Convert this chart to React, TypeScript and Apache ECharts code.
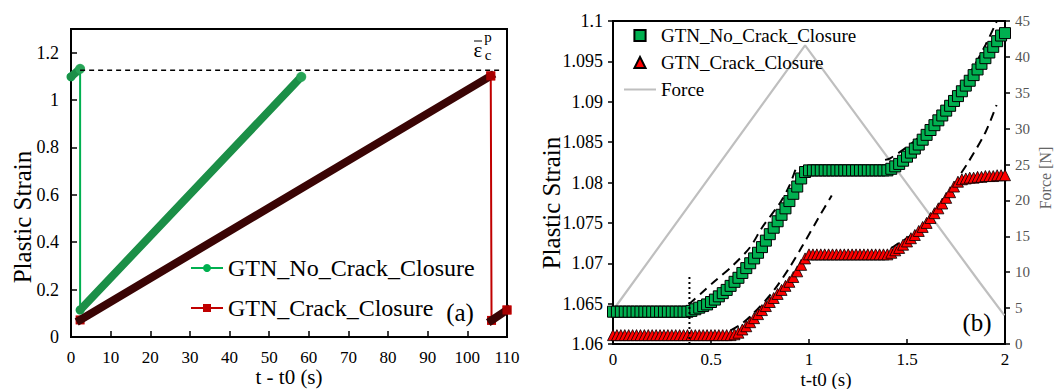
import React, { useEffect, useRef } from 'react';
import * as echarts from 'echarts';

// ---------- Panel (a) ----------
const tNoClosureA = [0, 2.3, 2.3, 58.1];
const strainNoClosureA = [1.098, 1.132, 0.114, 1.098];
const tClosureA = [2.3, 105.9, 106.1, 110];
const strainClosureA = [0.072, 1.102, 0.07, 0.114];
const criticalStrainA = 1.126;
const criticalSpanA = [2.3, 108.3];

// ---------- Panel (b) ----------
const timeB = [
  0, 0.02, 0.04, 0.06, 0.08, 0.1, 0.12, 0.14, 0.16, 0.18, 0.2, 0.22, 0.24, 0.26, 0.28, 0.3, 0.32, 0.34, 0.36, 0.38,
  0.4, 0.42, 0.44, 0.46, 0.48, 0.5, 0.52, 0.54, 0.56, 0.58, 0.6, 0.62, 0.64, 0.66, 0.68, 0.7, 0.72, 0.74, 0.76, 0.78,
  0.8, 0.82, 0.84, 0.86, 0.88, 0.9, 0.92, 0.94, 0.96, 0.98, 1, 1.02, 1.04, 1.06, 1.08, 1.1, 1.12, 1.14, 1.16, 1.18,
  1.2, 1.22, 1.24, 1.26, 1.28, 1.3, 1.32, 1.34, 1.36, 1.38, 1.4, 1.42, 1.44, 1.46, 1.48, 1.5, 1.52, 1.54, 1.56, 1.58,
  1.6, 1.62, 1.64, 1.66, 1.68, 1.7, 1.72, 1.74, 1.76, 1.78, 1.8, 1.82, 1.84, 1.86, 1.88, 1.9, 1.92, 1.94, 1.96, 1.98, 2,
];
const strainNoClosureB = [
  1.064, 1.064, 1.064, 1.064, 1.064, 1.064, 1.064, 1.064, 1.064, 1.064, 1.064, 1.064, 1.064, 1.064, 1.064, 1.064, 1.064, 1.064, 1.064, 1.064,
  1.0641, 1.0643, 1.0645, 1.0647, 1.0649, 1.0652, 1.0655, 1.0659, 1.0663, 1.0667, 1.0672, 1.0677, 1.0682, 1.0688, 1.0694, 1.07, 1.0706, 1.0713, 1.072, 1.0728,
  1.0736, 1.0744, 1.0752, 1.076, 1.0768, 1.0777, 1.0786, 1.0795, 1.0805, 1.0813,
  1.0815, 1.0815, 1.0815, 1.0815, 1.0815, 1.0815, 1.0815, 1.0815, 1.0815, 1.0815, 1.0815, 1.0815, 1.0815, 1.0815, 1.0815, 1.0815, 1.0815, 1.0815, 1.0815, 1.0815,
  1.0815, 1.0817, 1.082, 1.0823, 1.0827, 1.0832, 1.0837, 1.0842, 1.0847, 1.0853, 1.0859, 1.0865, 1.0871, 1.0877, 1.0883, 1.0889, 1.0895, 1.0901, 1.0907, 1.0913,
  1.092, 1.0926, 1.0933, 1.094, 1.0947, 1.0954, 1.0961, 1.0968, 1.0975, 1.0982, 1.0985,
];
const strainClosureB = [
  1.0611, 1.0611, 1.0611, 1.0611, 1.0611, 1.0611, 1.0611, 1.0611, 1.0611, 1.0611, 1.0611, 1.0611, 1.0611, 1.0611, 1.0611, 1.0611, 1.0611, 1.0611, 1.0611, 1.0611,
  1.0611, 1.0611, 1.0611, 1.0611, 1.0611, 1.0611, 1.0611, 1.0611, 1.0611, 1.0611, 1.0611, 1.0612, 1.0614, 1.0618, 1.0622, 1.0627, 1.0632, 1.0637, 1.0642, 1.0647,
  1.0652, 1.0657, 1.0662, 1.0667, 1.0672, 1.0677, 1.0683, 1.069, 1.0698, 1.0706,
  1.0711, 1.0711, 1.0711, 1.0711, 1.0711, 1.0711, 1.0711, 1.0711, 1.0711, 1.0711, 1.0711, 1.0711, 1.0711, 1.0711, 1.0711, 1.0711, 1.0711, 1.0711, 1.0711, 1.0711,
  1.0711, 1.0713, 1.0716, 1.0719, 1.0723, 1.0727, 1.0731, 1.0735, 1.074, 1.0745, 1.075, 1.0756, 1.0762, 1.0768, 1.0774, 1.0781, 1.0788, 1.0795, 1.0801, 1.0804,
  1.0805, 1.0806, 1.0806, 1.0807, 1.0807, 1.0808, 1.0808, 1.0808, 1.0809, 1.0809, 1.0809,
];
const forceTime = [0, 0.98, 1.873, 1.997];
const forceN = [4.7, 41.6, 8.5, 4.0];

// dashed model curves (t, strain)
const fitNoClosure1T = [0.386, 0.446, 0.52, 0.615, 0.7, 0.76, 0.853, 0.9, 0.938];
const fitNoClosure1S = [1.0649, 1.0662, 1.0678, 1.0698, 1.072, 1.0744, 1.0775, 1.0796, 1.0821];
const fitClosure1T = [0.6, 0.65, 0.7, 0.81, 0.904, 0.963, 1.048, 1.116];
const fitClosure1S = [1.0617, 1.0624, 1.0634, 1.0663, 1.0696, 1.072, 1.0756, 1.0784];
const fitNoClosure2T = [1.388, 1.414, 1.5, 1.583, 1.65, 1.72, 1.83, 1.9, 1.957];
const fitNoClosure2S = [1.0828, 1.083, 1.0844, 1.0861, 1.0877, 1.0896, 1.0939, 1.097, 1.0999];
const fitClosure2T = [1.42, 1.44, 1.583, 1.7, 1.77, 1.81, 1.9, 1.957];
const fitClosure2S = [1.0719, 1.0722, 1.0745, 1.0776, 1.0809, 1.0824, 1.0862, 1.0896];
const onsetTime = 0.39;
const onsetSpan = [1.06, 1.0684];

const NAME_NO = 'GTN_No_Crack_Closure';
const NAME_CL = 'GTN_Crack_Closure';
const B_PREFIX = 'b:';

const zip = (xs: number[], ys: number[]) => xs.map((x, i) => [x, ys[i]]);

const FONT = '"Liberation Serif", "Times New Roman", "DejaVu Serif", serif';

export default function App() {
  const ref = useRef<HTMLDivElement>(null);
  useEffect(() => {
    if (!ref.current) return;
    const chart = echarts.init(ref.current, null, { renderer: 'svg' });

    const axisLineBlack = { show: true, lineStyle: { color: '#000', width: 2 } };
    const labelBase = { color: '#000', fontFamily: FONT, fontSize: 18 };

    const dashedFit = (t: number[], s: number[]) => ({
      type: 'line',
      xAxisIndex: 1,
      yAxisIndex: 1,
      data: zip(t, s),
      symbol: 'none',
      smooth: 0.3,
      silent: true,
      lineStyle: { color: '#000', width: 2, type: [9, 6] },
      z: 3,
    });

    const txt = (text: string, x: number, y: number, fontSize: number, extra: any = {}) => ({
      type: 'text', x, y, rotation: extra.rotation || 0,
      style: { text, fontSize, fontFamily: FONT, fill: extra.fill || '#000', align: 'center', verticalAlign: 'middle' },
    });

    const option: any = {
      animation: false,
      textStyle: { fontFamily: FONT },
      grid: [
        { left: 71, top: 29, width: 436, height: 308, show: true, borderColor: '#000', borderWidth: 2 },
        { left: 613, top: 21, width: 392, height: 323, show: true, borderColor: '#000', borderWidth: 2 },
      ],
      xAxis: [
        {
          gridIndex: 0, type: 'value', min: 0, max: 110, interval: 10,
          axisLine: axisLineBlack,
          axisTick: { inside: true, length: 6, lineStyle: { color: '#000', width: 1.5 } },
          axisLabel: { ...labelBase, fontSize: 17, margin: 12 },
          splitLine: { show: false },
        },
        {
          gridIndex: 1, type: 'value', min: 0, max: 2, interval: 0.5,
          axisLine: axisLineBlack,
          axisTick: { inside: true, length: 5, lineStyle: { color: '#000', width: 1.5 } },
          axisLabel: { ...labelBase, fontSize: 17, margin: 7 },
          splitLine: { show: false },
        },
      ],
      yAxis: [
        {
          gridIndex: 0, type: 'value', min: 0, max: 1.3, interval: 0.2,
          axisLine: axisLineBlack,
          axisTick: { inside: true, length: 6, lineStyle: { color: '#000', width: 1.5 } },
          axisLabel: {
            ...labelBase, margin: 12,
            formatter: (v: number) => (v > 1.25 ? '' : String(Math.round(v * 10) / 10)),
          },
          splitLine: { show: false },
        },
        {
          gridIndex: 1, type: 'value', min: 1.06, max: 1.1, interval: 0.005,
          axisLine: axisLineBlack,
          axisTick: { inside: false, length: 5, lineStyle: { color: '#000', width: 1.5 } },
          axisLabel: {
            ...labelBase, margin: 10,
            formatter: (v: number) => String(Math.round(v * 1000) / 1000),
          },
          splitLine: { show: false },
        },
        {
          gridIndex: 1, type: 'value', position: 'right', min: 0, max: 45, interval: 5,
          axisLine: axisLineBlack,
          axisTick: { inside: false, length: 5, lineStyle: { color: '#000', width: 1.5 } },
          axisLabel: { color: '#555', fontFamily: FONT, fontSize: 15, margin: 10 },
          splitLine: { show: false },
        },
      ],
      legend: [
        {
          data: [NAME_NO, NAME_CL],
          orient: 'vertical',
          left: 185,
          top: 251,
          itemWidth: 32,
          itemHeight: 10,
          itemGap: 16,
          selectedMode: false,
          textStyle: { fontSize: 24, fontFamily: FONT, color: '#000' },
        },
        {
          data: [
            { name: B_PREFIX + NAME_NO, lineStyle: { opacity: 0 } },
            { name: B_PREFIX + NAME_CL, lineStyle: { opacity: 0 } },
            { name: 'Force', itemStyle: { opacity: 0 } },
          ],
          orient: 'vertical',
          left: 618,
          top: 21,
          itemWidth: 32,
          itemHeight: 14,
          itemGap: 8,
          selectedMode: false,
          formatter: (n: string) => n.replace(B_PREFIX, ''),
          textStyle: { fontSize: 19, fontFamily: FONT, color: '#000' },
        },
      ],
      series: [
        // ----- panel (a) -----
        {
          name: NAME_NO, type: 'line', xAxisIndex: 0, yAxisIndex: 0,
          data: zip(tNoClosureA, strainNoClosureA),
          symbol: 'circle', symbolSize: 9,
          lineStyle: { color: '#00b050', width: 2 },
          itemStyle: { color: '#00b050' },
          z: 2,
        },
        {
          name: NAME_CL, type: 'line', xAxisIndex: 0, yAxisIndex: 0,
          data: zip(tClosureA, strainClosureA),
          symbol: 'rect', symbolSize: 9,
          lineStyle: { color: '#c00000', width: 2 },
          itemStyle: { color: '#c00000' },
          z: 2,
        },
        {
          type: 'line', xAxisIndex: 0, yAxisIndex: 0, silent: true,
          data: zip(tNoClosureA.slice(0, 2), strainNoClosureA.slice(0, 2)),
          symbol: 'none', lineStyle: { color: '#1b8f47', width: 8, cap: 'round' }, z: 3,
        },
        {
          type: 'line', xAxisIndex: 0, yAxisIndex: 0, silent: true,
          data: zip(tNoClosureA.slice(2), strainNoClosureA.slice(2)),
          symbol: 'none', lineStyle: { color: '#1b8f47', width: 8, cap: 'round' }, z: 3,
        },
        {
          type: 'line', xAxisIndex: 0, yAxisIndex: 0, silent: true,
          data: zip(tClosureA.slice(0, 2), strainClosureA.slice(0, 2)),
          symbol: 'none', lineStyle: { color: '#3a0404', width: 8, cap: 'square' }, z: 3,
        },
        {
          type: 'line', xAxisIndex: 0, yAxisIndex: 0, silent: true,
          data: zip(tClosureA.slice(2), strainClosureA.slice(2)),
          symbol: 'none', lineStyle: { color: '#3a0404', width: 8, cap: 'square' }, z: 3,
        },
        {
          type: 'scatter', xAxisIndex: 0, yAxisIndex: 0, silent: true,
          data: [zip(tNoClosureA, strainNoClosureA)[1], zip(tNoClosureA, strainNoClosureA)[3]],
          symbol: 'circle', symbolSize: 10, itemStyle: { color: '#2aa85a' }, z: 4,
        },
        {
          type: 'scatter', xAxisIndex: 0, yAxisIndex: 0, silent: true,
          data: [zip(tClosureA, strainClosureA)[1], zip(tClosureA, strainClosureA)[3]],
          symbol: 'rect', symbolSize: 9, itemStyle: { color: '#c00000' }, z: 4,
        },
        {
          type: 'line', xAxisIndex: 0, yAxisIndex: 0, silent: true,
          data: [[criticalSpanA[0], criticalStrainA], [criticalSpanA[1], criticalStrainA]],
          symbol: 'none', lineStyle: { color: '#000', width: 1.5, type: [5, 4] }, z: 5,
        },
        // ----- panel (b) -----
        {
          name: 'Force', type: 'line', xAxisIndex: 1, yAxisIndex: 2,
          data: zip(forceTime, forceN),
          symbol: 'none',
          lineStyle: { color: '#bfbfbf', width: 2.2 },
          itemStyle: { color: '#bfbfbf' },
          z: 1,
        },
        dashedFit(fitNoClosure1T, fitNoClosure1S),
        dashedFit(fitClosure1T, fitClosure1S),
        dashedFit(fitNoClosure2T, fitNoClosure2S),
        dashedFit(fitClosure2T, fitClosure2S),
        {
          type: 'line', xAxisIndex: 1, yAxisIndex: 1, silent: true,
          data: [[onsetTime, onsetSpan[0]], [onsetTime, onsetSpan[1]]],
          symbol: 'none', lineStyle: { color: '#000', width: 2, type: [2, 3] }, z: 6,
        },
        {
          name: B_PREFIX + NAME_CL, type: 'line', xAxisIndex: 1, yAxisIndex: 1,
          data: zip(timeB, strainClosureB),
          symbol: 'triangle', symbolSize: 11, showAllSymbol: true,
          lineStyle: { width: 0, opacity: 0 },
          itemStyle: { color: '#ff0000', borderColor: '#000', borderWidth: 0.8 },
          z: 4,
        },
        {
          name: B_PREFIX + NAME_NO, type: 'line', xAxisIndex: 1, yAxisIndex: 1,
          data: zip(timeB, strainNoClosureB),
          symbol: 'rect', symbolSize: 11, showAllSymbol: true,
          lineStyle: { width: 0, opacity: 0 },
          itemStyle: { color: '#00b050', borderColor: '#000', borderWidth: 1 },
          z: 4,
        },
      ],
      graphic: [
        txt('Plastic Strain', 22, 217, 25, { rotation: Math.PI / 2 }),
        txt('t - t0 (s)', 289, 377, 21),
        txt('Plastic Strain', 551, 203, 25, { rotation: Math.PI / 2 }),
        txt('t-t0 (s)', 826, 379, 19),
        txt('Force [N]', 1045, 178, 16, { rotation: Math.PI / 2, fill: '#666' }),
        txt('(a)', 460, 312, 25),
        txt('(b)', 977, 322, 25),
        txt('ε', 478, 50, 21),
        { type: 'line', shape: { x1: 474, y1: 41, x2: 482, y2: 41 }, style: { stroke: '#000', lineWidth: 1 } },
        txt('p', 488, 37, 15),
        txt('c', 488, 55, 15),
      ],
    };

    chart.setOption(option);
    return () => chart.dispose();
  }, []);

  return <div ref={ref} style={{ position: 'absolute', left: 0, top: 0, width: 1058, height: 389, background: '#fff' }} />;
}
